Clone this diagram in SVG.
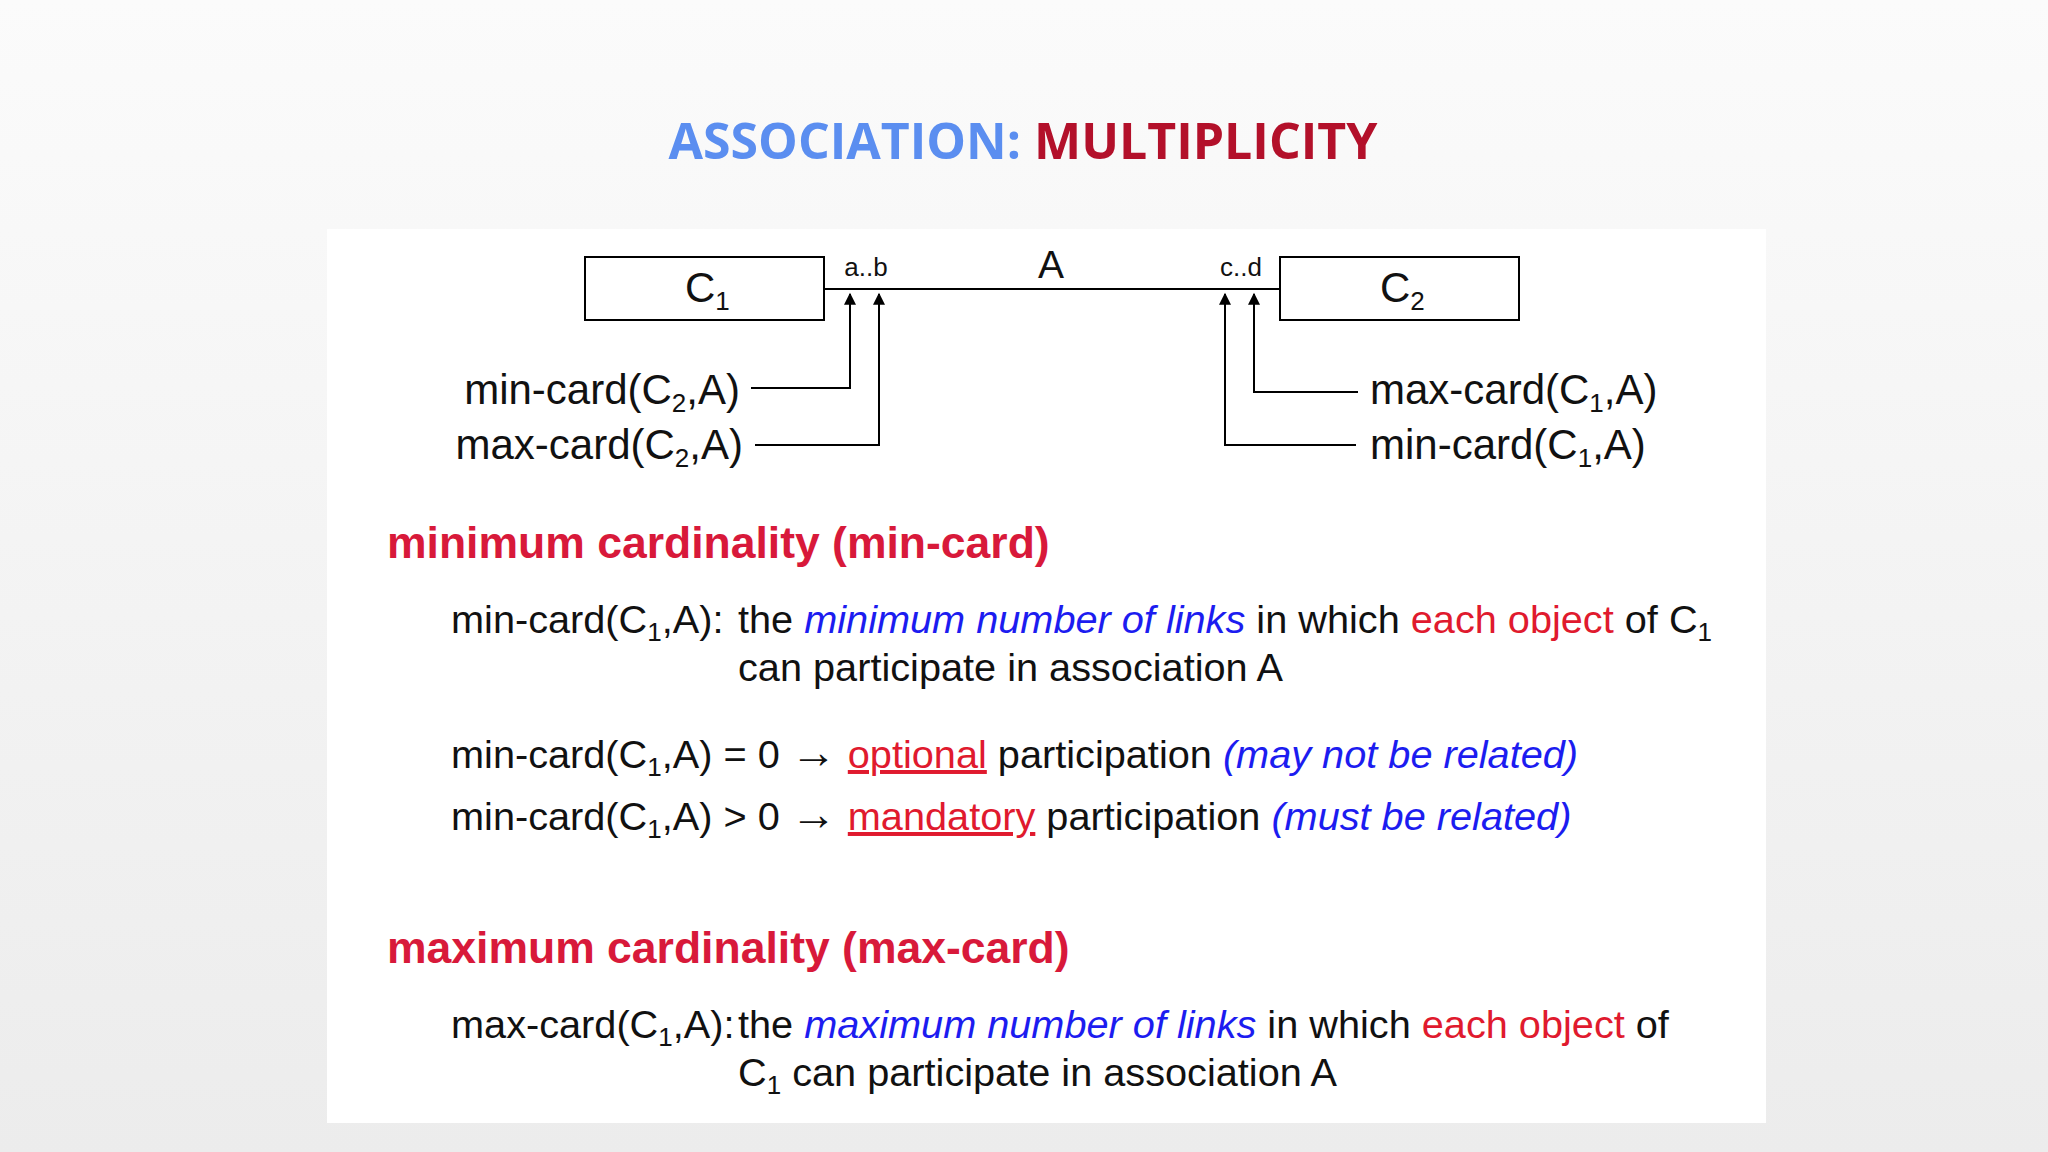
<svg xmlns="http://www.w3.org/2000/svg" width="2048" height="1152" viewBox="0 0 2048 1152">
<defs>
<linearGradient id="bg" x1="0" y1="0" x2="0" y2="1"><stop offset="0" stop-color="#fbfbfb"/><stop offset="1" stop-color="#ececec"/></linearGradient>
<marker id="ah" viewBox="0 0 10 10" refX="9" refY="5" markerWidth="16" markerHeight="12" orient="auto" markerUnits="userSpaceOnUse"><path d="M0,0 L10,5 L0,10 Z" fill="#000"/></marker>
<style>
.t{font-family:"Liberation Sans",Arial,sans-serif;fill:#111}
.s{font-size:42px}
.b{font-size:39.7px}
.h{font-size:44.5px;font-weight:bold;fill:#d8193a}
.bl{fill:#1c1cf0;font-style:italic}
.rd{fill:#e01a2e}
.sub{font-size:26px}
.ar{font-size:46px}
.ln{stroke:#000;stroke-width:2;fill:none}
</style>
</defs>
<rect width="2048" height="1152" fill="url(#bg)"/>
<rect x="327" y="229" width="1439" height="894" fill="#fff"/>
<text x="1023" y="159" text-anchor="middle" font-family="'Open Sans',sans-serif" font-weight="bold" font-size="50"><tspan fill="#5b8ef0">ASSOCIATION: </tspan><tspan fill="#b3102a">MULTIPLICITY</tspan></text>
<g id="C1"><rect x="585" y="257" width="239" height="63" class="ln"/><text class="t s" x="685" y="302">C<tspan class="sub" dy="8">1</tspan></text></g>
<g id="C2"><rect x="1280" y="257" width="239" height="63" class="ln"/><text class="t s" x="1380" y="302">C<tspan class="sub" dy="8">2</tspan></text></g>
<g id="connectors">
<line x1="824" y1="289" x2="1280" y2="289" class="ln"/>
<polyline points="751,388 850,388 850,294" class="ln" marker-end="url(#ah)"/>
<polyline points="755,445 879,445 879,294" class="ln" marker-end="url(#ah)"/>
<polyline points="1358,392 1254,392 1254,294" class="ln" marker-end="url(#ah)"/>
<polyline points="1356,445 1225,445 1225,294" class="ln" marker-end="url(#ah)"/>
</g>
<g id="labels">
<text class="t" x="866" y="276" font-size="26" text-anchor="middle">a..b</text>
<text class="t" x="1051" y="278" font-size="39" text-anchor="middle">A</text>
<text class="t" x="1241" y="276" font-size="26" text-anchor="middle">c..d</text>
<text class="t s" x="740" y="404" text-anchor="end">min-card(C<tspan class="sub" dy="8">2</tspan><tspan dy="-8">,A)</tspan></text>
<text class="t s" x="743" y="459" text-anchor="end">max-card(C<tspan class="sub" dy="8">2</tspan><tspan dy="-8">,A)</tspan></text>
<text class="t s" x="1370" y="404">max-card(C<tspan class="sub" dy="8">1</tspan><tspan dy="-8">,A)</tspan></text>
<text class="t s" x="1370" y="459">min-card(C<tspan class="sub" dy="8">1</tspan><tspan dy="-8">,A)</tspan></text>
</g>
<text class="t h" x="387" y="558">minimum cardinality (min-card)</text>
<text class="t b" x="451" y="633">min-card(C<tspan class="sub" dy="8">1</tspan><tspan dy="-8">,A):</tspan></text>
<text class="t b" x="738" y="633">the <tspan class="bl">minimum number of links</tspan> in which <tspan class="rd">each object</tspan> of C<tspan class="sub" dy="8">1</tspan></text>
<text class="t b" x="738" y="681">can participate in association A</text>
<text class="t b" x="451" y="768">min-card(C<tspan class="sub" dy="8">1</tspan><tspan dy="-8">,A) = 0 </tspan><tspan class="ar">→</tspan> <tspan class="rd" text-decoration="underline">optional</tspan> participation <tspan class="bl">(may not be related)</tspan></text>
<text class="t b" x="451" y="830">min-card(C<tspan class="sub" dy="8">1</tspan><tspan dy="-8">,A) &gt; 0 </tspan><tspan class="ar">→</tspan> <tspan class="rd" text-decoration="underline">mandatory</tspan> participation <tspan class="bl">(must be related)</tspan></text>
<text class="t h" x="387" y="963">maximum cardinality (max-card)</text>
<text class="t b" x="451" y="1038">max-card(C<tspan class="sub" dy="8">1</tspan><tspan dy="-8">,A):</tspan></text>
<text class="t b" x="738" y="1038">the <tspan class="bl">maximum number of links</tspan> in which <tspan class="rd">each object</tspan> of</text>
<text class="t b" x="738" y="1086">C<tspan class="sub" dy="8">1</tspan><tspan dy="-8"> can participate in association A</tspan></text>
</svg>
